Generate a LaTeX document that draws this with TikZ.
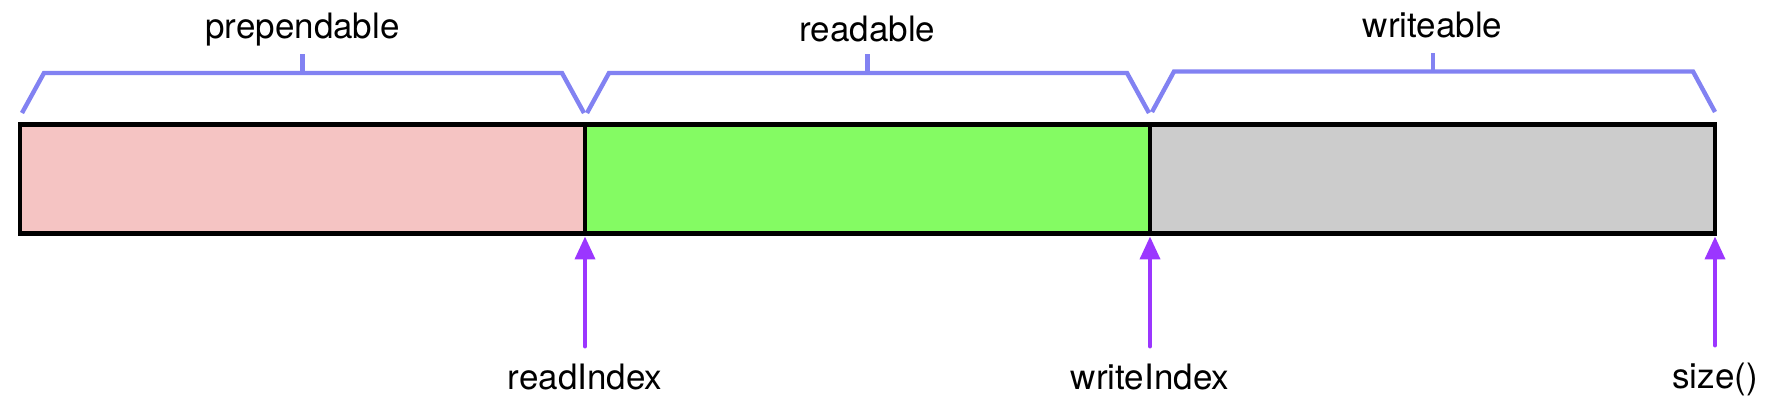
\documentclass[tikz,border=0pt]{standalone}
\usepackage{fontspec}
\setmainfont{TeX Gyre Heros}
\usetikzlibrary{arrows.meta}
\definecolor{prepfill}{HTML}{F5C4C3}
\definecolor{readfill}{HTML}{84FB63}
\definecolor{writefill}{HTML}{CCCCCC}
\definecolor{bracecol}{HTML}{8282F2}
\definecolor{ptrcol}{HTML}{9B36FF}
\begin{document}
\begin{tikzpicture}[x=0.5pt,y=-0.5pt,inner sep=0pt,outer sep=0pt,
font=\fontsize{17.5}{21}\selectfont,
segment/.style={draw,rectangle,line width=2.25pt,minimum width=282.5pt,minimum height=54.5pt},
brace/.style={draw=bracecol,line width=2.2pt},
ptr/.style={draw=ptrcol,line width=2pt,line cap=round,-{Triangle[length=11.5pt,width=10pt]}}]
\useasboundingbox (0,0) rectangle (1788,410);
% buffer segments
\draw (302.5,179) node[segment,fill=prepfill] (prep) {};
\draw (1432.5,179) node[segment,fill=writefill] (write) {};
\draw (867.5,179) node[segment,fill=readfill] (read) {};
% braces
\draw[brace] (22,113) -- (44,73) -- (562,73) -- (584,113);
\draw[brace] (302.5,73) -- ++(0,-19);
\draw (302.5,39) node[anchor=base] (lprep) {prependable};
\draw[brace] (587,113) -- (609,73) -- (1127,73) -- (1149,113);
\draw[brace] (867.5,73) -- ++(0,-19);
\draw (867.5,42) node[anchor=base] (lread) {readable};
\draw[brace] (1152,112) -- (1174,71.5) -- (1693,71.5) -- (1715,112);
\draw[brace] (1433,71.5) -- ++(0,-18);
\draw (1432.5,38) node[anchor=base] (lwrite) {writeable};
% indices
\draw (585,390) node[anchor=base] (ridx) {readIndex};
\draw (1150,390) node[anchor=base] (widx) {writeIndex};
\draw (1715,389) node[anchor=base] (sz) {size()};
\draw[ptr] ([yshift=9pt]ridx.north) -- ([yshift=-1.5pt]prep.south east);
\draw[ptr] ([yshift=9pt]widx.north) -- ([yshift=-1.5pt]read.south east);
\draw[ptr] ([yshift=9pt]sz.north) -- ([yshift=-1.5pt]write.south east);
\end{tikzpicture}
\end{document}
